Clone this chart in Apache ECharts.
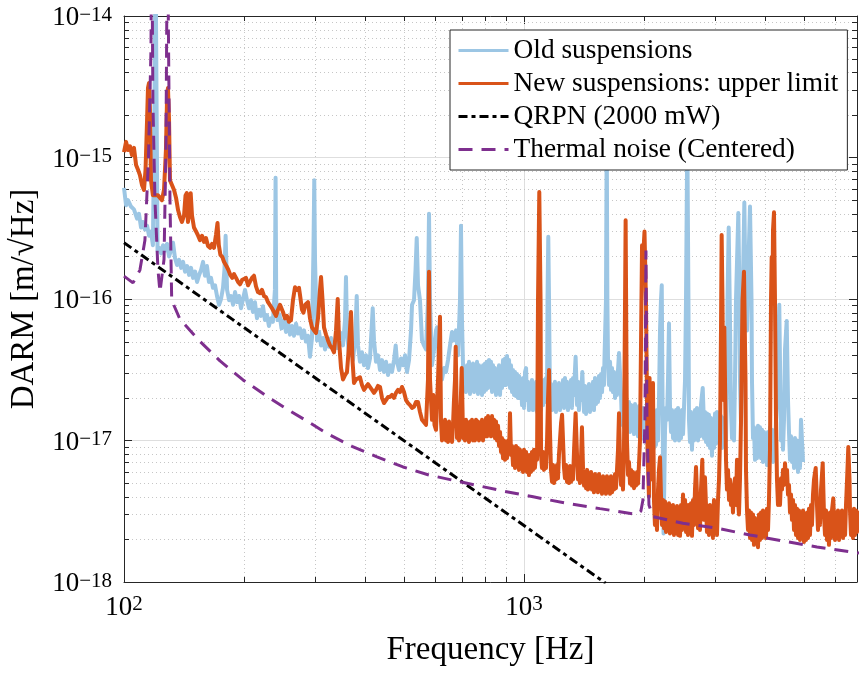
<!DOCTYPE html>
<html>
<head>
<meta charset="utf-8">
<script src="https://cdn.jsdelivr.net/npm/echarts@6/dist/echarts.min.js"></script>
<style>
  html, body { margin: 0; padding: 0; background: #ffffff; }
  #chart { width: 859px; height: 678px; }
</style>
</head>
<body>
<div id="chart"></div>
<script>
// Axis ranges (Hz, m/sqrt(Hz))
const freqMin = 100, freqMax = 6800;
const asdMin = 1e-18, asdMax = 1e-14;

// Minor tick positions of the two log axes
const freqMinorTicks = [200, 300, 400, 500, 600, 700, 800, 900, 2000, 3000, 4000, 5000, 6000];
const asdMinorTicks = [
  2e-18, 3e-18, 4e-18, 5e-18, 6e-18, 7e-18, 8e-18, 9e-18,
  2e-17, 3e-17, 4e-17, 5e-17, 6e-17, 7e-17, 8e-17, 9e-17,
  2e-16, 3e-16, 4e-16, 5e-16, 6e-16, 7e-16, 8e-16, 9e-16,
  2e-15, 3e-15, 4e-15, 5e-15, 6e-15, 7e-15, 8e-15, 9e-15
];

const seriesNames = ['Old suspensions', 'New suspensions: upper limit', 'QRPN (2000 mW)', 'Thermal noise (Centered)'];

// [frequency Hz, DARM ASD m/sqrt(Hz)]
const oldSuspensions = [
[100,6.1e-16],[101.2,4.6e-16],[102.3,5.0e-16],[104.1,4.5e-16],[105.9,4.3e-16],[107.8,3.7e-16],[109.0,4.0e-16],[110.3,3.2e-16],[111.5,3.5e-16],[112.8,3.1e-16],[114.2,3.3e-16],[115.5,2.8e-16],[116.8,3.0e-16],[118.1,2.4e-16],[119.2,2.6e-15],[119.9,3e-14],[120.6,2.6e-15],[121.3,2.2e-16],[122.4,2.3e-16],[123.8,2.1e-16],[125.2,2.4e-16],[126.6,2.2e-16],[128.1,2.45e-16],[129.6,2.0e-16],[131.0,2.2e-16],[132.6,2.5e-16],[134.1,1.95e-16],[135.7,1.74e-16],[137.3,1.89e-16],[138.9,1.66e-16],[140.5,1.83e-16],[142.1,1.56e-16],[143.8,1.71e-16],[145.4,1.48e-16],[147.1,1.66e-16],[148.8,1.41e-16],[150.6,1.56e-16],[152.3,1.32e-16],[154.1,1.48e-16],[155.9,1.61e-16],[157.6,1.83e-16],[159.4,1.46e-16],[161.2,1.71e-16],[163.1,1.32e-16],[165.0,1.41e-16],[166.9,1.2e-16],[168.9,1.25e-16],[170.8,1.05e-16],[172.8,9.1e-17],[174.8,1.0e-16],[176.8,1.2e-16],[178.3,1.61e-16],[179.5,2.8e-16],[181.0,1.16e-16],[183.1,9.8e-17],[185.2,1.05e-16],[187.4,9.1e-17],[189.5,1.12e-16],[191.7,9.5e-17],[193.9,1.05e-16],[196.1,8.6e-17],[198.4,1.0e-16],[200.7,1.16e-16],[203.0,9.8e-17],[205.4,8.6e-17],[207.7,9.8e-17],[210.1,8.1e-17],[212.5,9.5e-17],[215.0,7.3e-17],[217.5,8.4e-17],[220.0,7.6e-17],[222.5,8.9e-17],[225.1,7.1e-17],[227.7,7.7e-17],[230.3,6.45e-17],[233.0,7.3e-17],[235.6,6.9e-17],[238.4,1.16e-16],[239.3,7.2e-16],[240.2,9.8e-17],[242.0,7.1e-17],[244.8,7.8e-17],[247.6,6.2e-17],[251.2,7.1e-17],[254.1,5.85e-17],[257.0,6.9e-17],[260.0,5.6e-17],[263.0,6.45e-17],[266.1,5.5e-17],[269.2,6.7e-17],[272.3,5.7e-17],[275.4,6.2e-17],[278.6,5.3e-17],[281.8,6.0e-17],[285.1,5.0e-17],[288.4,5.5e-17],[291.7,3.9e-17],[295.1,5.3e-17],[297.6,2.2e-16],[299.0,6.9e-16],[300.3,1.89e-16],[303.8,5.1e-17],[307.3,5.85e-17],[310.9,4.7e-17],[314.5,5.3e-17],[318.1,4.4e-17],[321.8,5.1e-17],[325.5,4.6e-17],[329.3,5.3e-17],[333.1,4.4e-17],[337.0,5.0e-17],[340.9,4.5e-17],[344.8,5.3e-17],[348.8,5.75e-17],[352.8,4.7e-17],[356.9,7.1e-17],[358.9,1.43e-16],[361.0,6.0e-17],[365.2,4.0e-17],[369.4,4.7e-17],[373.7,3.7e-17],[378.0,5.1e-17],[381.8,1.05e-16],[384.6,4.7e-17],[389.0,3.6e-17],[393.5,4.2e-17],[398.1,3.4e-17],[402.7,4.0e-17],[407.4,3.25e-17],[412.1,3.8e-17],[415.7,6.0e-17],[418.6,8.6e-17],[421.7,5.1e-17],[426.6,3.6e-17],[431.5,4.0e-17],[436.5,3.15e-17],[441.6,3.7e-17],[446.7,3.05e-17],[451.9,3.6e-17],[457.1,2.9e-17],[462.4,3.4e-17],[467.7,3.05e-17],[473.2,3.7e-17],[477.8,4.7e-17],[481.5,3.6e-17],[487.1,3.15e-17],[492.7,3.8e-17],[498.4,3.4e-17],[504.1,4.0e-17],[510.0,3.05e-17],[515.9,3.7e-17],[521.9,6.0e-17],[524.9,9.1e-17],[530.9,9.8e-17],[535.6,1.61e-16],[539.3,2.7e-16],[543.3,1.25e-16],[549.5,9.8e-17],[555.9,5.1e-17],[562.3,4.7e-17],[568.9,4.4e-17],[575.4,9.8e-17],[578.8,4.0e-16],[582.1,9.8e-17],[588.8,3.4e-17],[595.7,4.4e-17],[602.6,6.0e-17],[606.1,6.3e-17],[609.6,4.7e-17],[616.6,2.9e-17],[623.7,2.7e-17],[631.0,3.25e-17],[638.3,3.05e-17],[645.7,3.7e-17],[653.1,4.7e-17],[660.7,5.85e-17],[668.3,5.1e-17],[676.1,6.0e-17],[683.9,4.0e-17],[691.8,9.8e-17],[695.8,3.3e-16],[699.8,7.1e-17],
[704.0,3.4e-17],[707.9,2.35e-17],[712.0,3.25e-17],[716.1,2.2e-17],[720.3,3.4e-17],[724.4,2.28e-17],[728.6,3.6e-17],[732.8,2.13e-17],[737.1,3.4e-17],[741.3,2.28e-17],[745.6,3.5e-17],[749.9,2.2e-17],[754.2,3.25e-17],[758.6,2.35e-17],[763.0,3.6e-17],[767.4,2.13e-17],[771.8,3.4e-17],[776.3,2.28e-17],[780.8,3.25e-17],[785.3,2.1e-17],[789.8,3.4e-17],[794.3,2.2e-17],[799.0,3.5e-17],[803.6,2.28e-17],[808.2,3.6e-17],[812.9,2.35e-17],[817.6,3.7e-17],[822.3,2.47e-17],[827.1,3.6e-17],[831.9,2.2e-17],[836.7,3.4e-17],[841.4,2.28e-17],[846.3,3.25e-17],[851.2,2.1e-17],[856.1,3.15e-17],[861.1,2.2e-17],[866.1,3.4e-17],[871.0,2.1e-17],[876.1,3.25e-17],[881.1,2.35e-17],[886.2,3.7e-17],[891.3,2.47e-17],[896.5,3.8e-17],[901.7,2.47e-17],[906.9,3.95e-17],[912.1,2.6e-17],[917.4,3.7e-17],[922.6,2.35e-17],[928.0,3.4e-17],[933.3,2.2e-17],[938.7,3.15e-17],[944.1,2.1e-17],[949.6,3.05e-17],[955.0,2.06e-17],[960.6,2.95e-17],[966.1,2.0e-17],[971.7,2.86e-17],
[977.2,2.0e-17],[982.9,2.68e-17],[988.6,1.78e-17],[994.3,2.77e-17],[1000,1.7e-17],[1006,3.05e-17],[1012,3.25e-17],[1017,1.93e-17],[1023,2.6e-17],[1029,1.64e-17],[1035,2.51e-17],[1041,1.75e-17],[1047,2.68e-17],[1053,1.64e-17],[1059,2.43e-17],[1065,1.7e-17],[1072,2.6e-17],[1078,1.59e-17],[1084,2.35e-17],[1090,1.7e-17],[1096,2.51e-17],[1103,1.64e-17],[1109,2.43e-17],[1116,1.78e-17],[1122,2.68e-17],[1129,1.87e-17],[1135,2.77e-17],[1142,2.28e-17],[1145,9.8e-17],[1150,2.75e-16],[1155,9.8e-17],[1161,2.1e-17],[1168,2.51e-17],[1175,1.64e-17],[1182,2.43e-17],[1189,1.7e-17],[1195,2.6e-17],[1202,1.59e-17],[1209,2.47e-17],[1216,1.7e-17],[1223,2.55e-17],[1230,1.64e-17],[1238,2.43e-17],[1245,1.78e-17],[1252,2.68e-17],[1259,1.7e-17],[1266,2.77e-17],[1274,1.81e-17],[1281,2.6e-17],[1288,1.64e-17],[1296,2.51e-17],[1303,1.75e-17],[1311,2.68e-17],[1318,1.7e-17],[1326,2.77e-17],[1334,2.1e-17],[1341,3.15e-17],[1346,3.9e-17],[1353,2.47e-17],[1357,1.78e-17],[1365,2.6e-17],[1372,1.64e-17],[1380,2.47e-17],[1388,1.93e-17],[1399,3.05e-17],[1405,2.2e-17],[1413,1.59e-17],[1421,2.43e-17],[1429,1.54e-17],[1438,2.35e-17],[1445,1.64e-17],[1454,2.51e-17],[1462,1.59e-17],[1471,2.43e-17],[1479,1.7e-17],[1488,2.6e-17],[1496,1.64e-17],[1505,2.77e-17],[1514,1.81e-17],[1522,2.68e-17],[1531,1.87e-17],[1540,2.86e-17],[1549,2.0e-17],[1558,2.95e-17],[1567,2.2e-17],[1576,3.25e-17],[1585,2.47e-17],[1589,3.7e-17],[1603,9.8e-17],[1610,1.5e-15],[1616,9.8e-17],[1622,3.7e-17],[1631,2.47e-17],[1641,3.6e-17],[1650,2.28e-17],[1660,3.25e-17],[1669,2.2e-17],[1679,3.05e-17],[1689,2.0e-17],[1698,2.9e-17],[1708,2.1e-17],[1718,3.15e-17],[1728,4.15e-17],
[1748,2.1e-17],[1758,1.29e-17],[1768,1.87e-17],[1778,1.24e-17],[1788,1.93e-17],[1799,1.19e-17],[1809,1.81e-17],[1820,1.24e-17],[1830,1.87e-17],[1841,1.15e-17],[1852,1.78e-17],[1862,1.19e-17],[1873,1.75e-17],[1884,1.11e-17],[1895,1.81e-17],[1906,1.15e-17],[1917,1.7e-17],[1928,1.07e-17],[1939,1.75e-17],[1950,1.11e-17],[1961,1.64e-17],[1972,1.04e-17],[1984,1.7e-17],[1995,1.07e-17],[2007,1.59e-17],[2018,1.0e-17],[2030,1.64e-17],[2042,1.04e-17],[2053,1.55e-17],[2065,9.76e-18],[2077,1.59e-17],[2089,9.3e-18],[2101,1.49e-17],[2113,8.85e-18],[2125,1.55e-17],[2138,9.3e-18],[2150,1.64e-17],[2163,1.0e-17],[2175,1.93e-17],[2188,6.0e-17],[2200,9.8e-17],[2210,1.25e-16],[2220,1.93e-17],[2233,2.2e-18],[2245,6.2e-18],[2252,1.19e-17],[2265,1.7e-17],[2278,1.4e-17],[2291,2.68e-17],[2304,6.7e-17],[2317,1.78e-17],[2331,1.15e-17],[2344,1.64e-17],[2358,1.04e-17],[2371,1.59e-17],[2385,1.0e-17],[2399,1.64e-17],[2413,1.07e-17],[2427,1.7e-17],[2441,1.0e-17],[2455,1.59e-17],[2469,1.04e-17],[2483,1.64e-17],[2498,1.11e-17],[2512,1.7e-17],[2527,2.68e-17],[2541,9.8e-17],[2560,1.5e-15],[2577,9.8e-17],[2585,1.4e-17],[2600,9.76e-18],[2615,1.59e-17],[2630,8.6e-18],[2646,1.55e-17],[2661,1.0e-17],[2676,1.64e-17],[2692,1.04e-17],[2707,1.7e-17],[2723,1.0e-17],[2739,1.64e-17],[2754,1.07e-17],[2770,1.78e-17],[2786,2.1e-17],[2798,2.35e-17],[2810,1.64e-17],[2818,1.04e-17],[2834,1.59e-17],[2851,9.76e-18],[2867,1.55e-17],[2884,9.3e-18],[2900,1.52e-17],[2917,8.85e-18],[2934,1.44e-17],[2951,7.8e-18],[2968,1.4e-17],[2985,8.85e-18],[3003,1.55e-17],[3020,9.5e-18],[3037,1.59e-17],[3055,9.76e-18],[3073,1.55e-17],[3090,9.3e-18],[3108,1.49e-17],[3126,8.85e-18],[3144,1.44e-17],[3162,9.1e-18],[3181,1.4e-17],[3199,1.0e-17],[3217,2.68e-17],[3227,9.8e-17],[3249,3.2e-16],[3273,7.1e-17],[3292,1.64e-17],[3311,1.04e-17],[3330,1.59e-17],[3350,1.0e-17],[3369,2.68e-17],[3388,9.8e-17],[3434,4.05e-16],[3458,9.8e-17],[3467,2.68e-17],[3488,1.29e-17],[3508,3.7e-17],[3528,1.36e-16],[3555,4.8e-16],[3579,1.16e-16],[3610,6.0e-17],[3642,1.89e-16],[3673,4.5e-16],[3705,9.8e-17],[3715,2.68e-17],[3737,1.04e-17],[3758,1.24e-17],[3780,7.3e-18],[3802,1.19e-17],[3824,7.5e-18],[3846,1.27e-17],[3868,7.9e-18],[3890,1.24e-17],[3913,7.5e-18],[3936,1.19e-17],[3958,7.05e-18],[3981,1.15e-17],[4004,7.3e-18],[4027,1.11e-17],[4050,6.7e-18],[4074,1.15e-17],[4097,7.3e-18],[4121,1.24e-17],[4145,7.5e-18],[4169,1.19e-17],[4193,7.05e-18],[4217,1.11e-17],[4241,7.3e-18],[4266,1.4e-17],[4290,1.93e-17],[4315,3.7e-17],[4347,9.1e-17],[4377,1.93e-17],[4391,1.0e-17],[4416,1.29e-17],[4441,8.6e-18],[4467,1.4e-17],[4493,4.4e-17],[4537,7.0e-17],[4571,1.93e-17],[4597,1.15e-17],[4624,7.3e-18],[4651,1.07e-17],[4677,7.05e-18],[4705,1.0e-17],[4732,6.4e-18],[4759,1.04e-17],[4786,6.7e-18],[4814,1.0e-17],[4842,6.0e-18],[4870,9.76e-18],[4898,6.4e-18],[4926,1.4e-17],[4955,1.44e-17],[4984,7.05e-18]
];

const newSuspensions = [
[100,1.09e-15],[101.2,1.29e-15],[102.3,1.13e-15],[103.5,1.2e-15],[104.7,1.04e-15],[105.9,1.17e-15],[107.2,8.85e-16],[108.4,8.2e-16],[109.6,7.5e-16],[110.9,6.4e-16],[112.2,5.9e-16],[113.2,8.2e-16],[114.2,1.84e-15],[114.8,3.1e-15],[115.5,3.36e-15],[116.1,2.17e-15],[116.8,6.9e-16],[118.1,5.4e-16],[120.2,5.4e-16],[121.6,5.4e-16],[123.0,5.3e-16],[124.4,5.0e-16],[125.9,5.9e-16],[127.3,1.13e-15],[128.1,2.55e-15],[128.8,3.1e-15],[129.6,1.84e-15],[130.3,6.9e-16],[131.8,6.4e-16],[133.4,5.9e-16],[134.9,5.2e-16],[136.5,4.25e-16],[138.0,3.8e-16],[139.6,3.5e-16],[141.3,3.9e-16],[142.5,5.4e-16],[143.5,5.6e-16],[144.5,3.5e-16],[145.8,4.25e-16],[146.8,5.6e-16],[147.9,3.9e-16],[149.6,3.2e-16],[151.4,3.0e-16],[153.2,2.8e-16],[154.9,2.6e-16],[156.7,2.8e-16],[158.5,2.53e-16],[160.3,2.7e-16],[162.2,2.37e-16],[164.1,2.3e-16],[166.0,2.45e-16],[167.9,2.3e-16],[169.8,2.83e-16],[171.3,3.45e-16],[172.6,2.4e-16],[174.2,2.05e-16],[176.2,1.98e-16],[177.8,1.83e-16],[180.3,1.71e-16],[182.3,1.61e-16],[184.4,1.48e-16],[186.5,1.41e-16],[188.4,1.5e-16],[190.6,1.41e-16],[192.8,1.32e-16],[195.0,1.27e-16],[197.3,1.36e-16],[199.5,1.32e-16],[201.8,1.41e-16],[204.2,1.25e-16],[206.5,1.29e-16],[208.9,1.41e-16],[211.3,1.46e-16],[213.8,1.23e-16],[216.2,1.12e-16],[218.8,1.1e-16],[221.3,1.16e-16],[223.9,1.05e-16],[226.5,1.03e-16],[229.1,9.5e-17],[231.7,9.2e-17],[234.4,8.6e-17],[237.1,8.1e-17],[239.9,7.6e-17],[242.7,8.4e-17],[245.5,9.1e-17],[247.9,9.4e-17],[249.7,8.1e-17],[252.6,7.3e-17],[255.5,7.6e-17],[258.5,6.9e-17],[261.5,7.1e-17],[264.5,9.8e-17],[267.6,1.21e-16],[270.7,1.16e-16],[273.8,1.2e-16],[275.4,1.07e-16],[278.6,8.4e-17],[280.9,8.0e-17],[284.0,9.1e-17],[288.4,9.5e-17],[291.7,7.3e-17],[295.1,6.3e-17],[298.5,6.0e-17],[302.0,5.75e-17],[305.5,7.3e-17],[309.0,1.16e-16],[310.9,1.43e-16],[313.6,9.8e-17],[316.2,6.3e-17],[319.9,5.6e-17],[323.6,5.1e-17],[327.4,4.7e-17],[331.1,4.5e-17],[335.0,4.2e-17],[338.9,6.0e-17],[342.2,1.0e-16],[344.8,5.1e-17],[348.8,3.25e-17],[352.8,2.7e-17],[356.9,2.9e-17],[361.0,3.05e-17],[365.2,4.7e-17],[369.4,8.1e-17],[372.6,3.7e-17],[375.8,2.55e-17],[380.2,2.7e-17],[384.6,2.77e-17],[389.0,2.8e-17],[393.5,2.47e-17],[398.1,2.28e-17],[402.7,2.35e-17],[407.4,2.5e-17],[412.1,2.55e-17],[416.9,2.28e-17],[421.7,2.17e-17],[426.6,2.28e-17],[431.5,2.43e-17],[436.5,2.39e-17],[441.6,2.0e-17],[446.7,1.84e-17],[451.9,1.93e-17],[457.1,2.03e-17],[462.4,2.03e-17],[467.7,2.1e-17],[473.2,2.0e-17],[478.6,2.17e-17],[484.2,2.28e-17],[489.8,2.2e-17],[495.5,2.39e-17],[501.2,2.2e-17],[507.0,1.93e-17],[512.9,1.84e-17],[518.8,1.78e-17],[524.8,1.7e-17],[530.9,1.73e-17],[537.0,1.87e-17],[543.3,1.87e-17],[549.5,1.59e-17],[555.9,1.4e-17],[562.3,1.44e-17],[568.9,1.29e-17],[575.4,2.7e-17],[578.8,1.56e-16],[582.1,2.7e-17],[588.8,1.4e-17],[593.3,2.1e-17],[597.4,1.29e-17],[602.6,1.19e-17],[609.6,2.7e-17],[616.6,7.5e-17],
[620.2,1.36e-17],[623.8,1.0e-17],[627.4,1.31e-17],[631.0,1.04e-17],[634.7,1.4e-17],[638.3,1.0e-17],[642.1,1.31e-17],[645.8,9.76e-18],[649.5,1.36e-17],[653.3,1.0e-17],[657.1,1.29e-17],[660.9,9.76e-18],[664.7,1.31e-17],[668.3,1.93e-17],[672.2,2.68e-17],[674.9,4.6e-17],[678.1,1.93e-17],[680.0,1.04e-17],[684.0,1.31e-17],[687.9,1.0e-17],[691.9,1.36e-17],[695.1,1.93e-17],[698.7,3.25e-17],[702.0,1.64e-17],[704.0,1.04e-17],[707.9,1.36e-17],[712.0,1.0e-17],[716.1,1.4e-17],[720.3,1.04e-17],[724.4,1.31e-17],[728.6,9.76e-18],[732.8,1.36e-17],[737.1,1.04e-17],[741.3,1.4e-17],[745.6,1.0e-17],[749.9,1.31e-17],[754.2,1.0e-17],[758.6,1.4e-17],[763.0,1.04e-17],[767.4,1.36e-17],[771.8,1.0e-17],[776.3,1.31e-17],[780.8,1.04e-17],[785.3,1.4e-17],[789.8,1.0e-17],[794.3,1.36e-17],[799.0,1.07e-17],[803.6,1.44e-17],[808.2,1.07e-17],[812.9,1.49e-17],[817.6,1.11e-17],[822.3,1.44e-17],[827.1,1.07e-17],[831.9,1.49e-17],[836.7,1.11e-17],[841.4,1.4e-17],[846.3,1.04e-17],[851.2,1.36e-17],[856.1,1.0e-17],[861.1,1.27e-17],[866.1,9.15e-18],[871.0,1.15e-17],[876.1,8.3e-18],[881.1,1.04e-17],[886.2,7.5e-18],[891.3,1.0e-17],[896.5,7.3e-18],[901.7,9.76e-18],[906.9,7.5e-18],[912.1,1.0e-17],[917.4,8.3e-18],[922.6,1.56e-17],[928.0,7.9e-18],[933.3,9.15e-18],[938.7,6.7e-18],[944.1,8.85e-18],[949.6,6.4e-18],[955.0,9.15e-18],[960.6,6.7e-18],[966.1,8.85e-18],[971.7,6.2e-18],[977.2,8.6e-18],[982.9,6.4e-18],[988.6,8.3e-18],[994.3,6.0e-18],[1000,8.6e-18],[1006,6.2e-18],[1012,8.3e-18],[1017,6.0e-18],[1023,7.9e-18],[1029,5.7e-18],[1035,7.9e-18],[1041,6.0e-18],[1047,8.3e-18],[1053,6.2e-18],[1059,8.6e-18],[1065,6.4e-18],[1072,8.3e-18],[1078,7.3e-18],[1084,9.8e-17],[1092,5.7e-16],[1100,9.8e-17],[1103,7.9e-18],[1109,6.4e-18],[1116,8.3e-18],[1122,6.2e-18],[1129,7.9e-18],[1135,6.4e-18],[1142,1.0e-17],[1148,1.93e-17],[1155,3.15e-17],[1161,1.19e-17],[1168,6.2e-18],[1175,5.1e-18],[1182,6.7e-18],[1189,5.0e-18],[1195,6.4e-18],[1202,5.3e-18],[1209,6.7e-18],[1216,5.4e-18],[1223,7.9e-18],[1230,1.0e-17],[1238,1.33e-17],[1245,1.52e-17],[1252,1.0e-17],[1259,6.4e-18],[1266,5.4e-18],[1274,6.7e-18],[1281,5.1e-18],[1288,6.4e-18],[1296,5.0e-18],[1303,6.6e-18],[1311,5.1e-18],[1318,6.4e-18],[1326,5.3e-18],[1334,8.6e-18],[1346,1.56e-17],[1357,7.9e-18],[1365,5.3e-18],[1372,6.4e-18],[1380,5.0e-18],[1388,7.3e-18],[1396,1.24e-17],
[1405,6.2e-18],[1413,4.8e-18],[1421,6.0e-18],[1429,4.6e-18],[1438,6.2e-18],[1445,4.5e-18],[1454,5.8e-18],[1462,4.6e-18],[1471,6.0e-18],[1479,4.5e-18],[1488,5.6e-18],[1496,4.3e-18],[1505,5.8e-18],[1514,4.5e-18],[1522,5.6e-18],[1531,4.3e-18],[1540,5.8e-18],[1549,4.5e-18],[1558,5.4e-18],[1567,4.2e-18],[1576,5.6e-18],[1585,4.3e-18],[1594,5.4e-18],[1603,4.2e-18],[1612,5.6e-18],[1622,4.3e-18],[1631,5.4e-18],[1641,4.2e-18],[1650,5.6e-18],[1660,4.3e-18],[1669,5.4e-18],[1679,4.5e-18],[1689,5.8e-18],[1698,4.6e-18],[1708,6.2e-18],[1718,8.6e-18],[1728,1.56e-17],[1738,7.3e-18],[1748,4.85e-18],[1758,6.0e-18],[1768,4.5e-18],[1778,8.6e-18],[1795,3.6e-16],[1809,1.0e-17],[1820,5.7e-18],[1830,7.05e-18],[1841,4.95e-18],[1852,6.2e-18],[1862,4.8e-18],[1873,6.0e-18],[1884,4.6e-18],[1895,5.8e-18],[1906,4.8e-18],[1917,6.0e-18],[1928,4.95e-18],[1939,6.9e-18],[1950,1.0e-17],
[1973,2.4e-16],[1984,1.89e-16],[2001,3.0e-16],[2018,9.8e-17],[2036,8.6e-18],[2053,4.0e-18],[2060,2.77e-17],[2077,5.3e-18],[2101,2.55e-17],
[2113,3.8e-18],[2125,2.53e-18],[2138,3.5e-18],[2150,2.33e-18],[2163,4.5e-18],[2175,6.2e-18],[2188,7.6e-18],[2200,4.15e-18],[2213,2.53e-18],[2226,3.8e-18],[2239,2.4e-18],[2252,3.7e-18],[2265,2.26e-18],[2278,3.5e-18],[2291,2.33e-18],[2304,3.6e-18],[2317,2.2e-18],[2331,3.45e-18],[2344,2.26e-18],[2358,3.5e-18],[2371,2.15e-18],[2385,3.3e-18],[2399,2.22e-18],[2413,3.45e-18],[2427,2.15e-18],[2441,3.3e-18],[2455,2.12e-18],[2469,3.5e-18],[2483,2.33e-18],[2498,4.15e-18],[2512,2.53e-18],[2527,3.8e-18],[2541,2.26e-18],[2556,3.5e-18],[2570,2.15e-18],[2585,3.5e-18],[2600,2.22e-18],[2615,3.6e-18],[2630,2.12e-18],[2646,3.8e-18],[2661,2.53e-18],[2676,4.5e-18],[2692,6.5e-18],[2707,4.15e-18],[2723,2.4e-18],[2739,3.7e-18],[2754,2.33e-18],[2770,4.5e-18],[2791,7.3e-18],[2802,3.8e-18],[2818,2.75e-18],[2834,5.5e-18],[2851,3.5e-18],[2867,2.26e-18],[2884,3.45e-18],[2900,2.15e-18],[2917,3.5e-18],[2934,2.22e-18],[2951,3.3e-18],[2968,2.05e-18],[2985,3.8e-18],[3003,2.33e-18],[3020,3.5e-18],[3037,2.15e-18],[3055,3.8e-18],[3073,5.3e-18],[3090,1.0e-17],[3108,6.0e-17],[3120,2.83e-16],[3135,9.8e-17],[3149,1.93e-17],[3168,6.3e-17],[3190,1.4e-17],[3199,7.3e-18],[3217,4.5e-18],[3236,6.2e-18],[3255,3.8e-18],[3273,5.3e-18],[3292,3.5e-18],[3311,4.6e-18],[3330,3.1e-18],[3350,4.85e-18],[3369,5.4e-18],[3388,3.5e-18],[3408,7.3e-18],[3428,3.8e-18],[3447,3.0e-18],[3467,5.3e-18],[3488,1.4e-17],[3518,9.8e-17],[3548,1.56e-16],[3579,2.68e-17],[3589,6.2e-18],[3610,3.2e-18],[3631,2.33e-18],[3652,3.2e-18],[3673,2.05e-18],[3694,3.1e-18],[3715,1.98e-18],[3737,3.0e-18],[3758,1.83e-18],[3780,2.83e-18],[3802,1.89e-18],[3824,2.53e-18],[3846,1.76e-18],[3868,3.0e-18],[3890,1.98e-18],[3913,3.1e-18],[3936,2.05e-18],[3958,3.2e-18],[3981,2.15e-18],[4004,3.1e-18],[4027,2.05e-18],[4050,3.3e-18],[4074,2.33e-18],[4097,3.8e-18],[4121,8.6e-18],[4145,9.8e-17],[4161,1.98e-16],[4181,9.8e-17],[4193,3.07e-16],[4217,4.1e-16],[4241,9.8e-17],[4266,1.4e-17],[4290,5.3e-18],[4315,3.5e-18],[4340,4.85e-18],[4365,3.5e-18],[4391,5.4e-18],[4416,4.5e-18],[4441,6.2e-18],[4467,4.85e-18],[4493,6.9e-18],[4519,5.3e-18],[4545,6.2e-18],[4571,4.15e-18],[4597,4.85e-18],[4624,3.1e-18],[4651,4.15e-18],[4677,2.75e-18],[4705,3.8e-18],[4732,2.33e-18],[4759,3.5e-18],[4786,2.15e-18],[4814,3.3e-18],[4842,2.05e-18],[4870,3.2e-18],[4898,1.98e-18],[4926,3.1e-18],[4955,2.05e-18],[4984,3.2e-18],[5012,1.92e-18],[5041,3.0e-18],[5070,1.98e-18],[5100,3.1e-18],[5129,2.05e-18],[5158,3.3e-18],[5188,2.15e-18],[5218,3.5e-18],[5248,2.53e-18],[5278,4.15e-18],[5309,5.3e-18],[5361,6.4e-18],[5386,4.5e-18],[5401,3.5e-18],[5433,2.33e-18],[5464,3.5e-18],[5495,2.53e-18],[5527,4.5e-18],[5582,6.9e-18],[5607,4.15e-18],[5623,3.0e-18],[5656,2.15e-18],[5689,3.2e-18],[5721,1.98e-18],[5754,3.0e-18],[5787,1.83e-18],[5821,3.1e-18],[5854,2.05e-18],[5888,3.2e-18],[5932,3.9e-18],[5957,2.75e-18],[5992,1.98e-18],[6026,3.1e-18],[6062,2.05e-18],[6095,3.2e-18],[6133,1.98e-18],[6166,3.1e-18],[6204,2.15e-18],[6237,3.2e-18],[6276,2.05e-18],[6310,3.1e-18],[6349,2.15e-18],[6383,3.5e-18],[6422,5.3e-18],[6468,9.0e-18],[6513,5.3e-18],[6531,3.2e-18],[6569,2.15e-18],[6607,3.1e-18],[6645,2.05e-18],[6683,3.3e-18],[6722,2.15e-18],[6761,3.2e-18],[6800,2.26e-18],[6839,3.1e-18],[6878,2.33e-18]
];

const qrpn = [[100, 2.5e-16], [1600, 9.8e-19]];

const thermalNoise = [
[100,1.45e-16],[105.3,1.3e-16],[109.6,1.6e-16],[112.8,2.6e-16],[115.1,9.6e-16],[116.8,5.8e-15],[117.3,5e-14],[118.1,2.5e-15],[119.5,5e-16],[121.6,1.6e-16],[123.0,1.12e-16],[124.4,1.15e-16],[125.9,1.9e-16],[127.3,1.13e-15],[128.4,5e-14],[129.6,2.5e-15],[130.3,5e-16],[131.6,9.8e-17],[138.0,7.2e-17],[154.0,5.1e-17],[173.8,3.65e-17],[198.4,2.68e-17],[229.1,2.03e-17],[252.6,1.7e-17],[283.5,1.4e-17],[323.6,1.11e-17],[371.5,9.1e-18],[429.0,7.65e-18],[498.4,6.5e-18],[578.8,5.7e-18],[884.7,4.4e-18],[1054,4.0e-18],[1278,3.6e-18],[1549,3.3e-18],[1916,3.0e-18],[1960,3.17e-18],[1983,3.8e-18],[2006,1.4e-17],[2018,2.2e-16],[2030,1.4e-17],[2053,3.5e-18],[2101,2.9e-18],[2497,2.6e-18],[3038,2.4e-18],[3673,2.15e-18],[4441,1.95e-18],[5401,1.77e-18],[6879,1.6e-18]
];

const axisColor = '#262626';
const serif = 'Liberation Serif';

function powerLabel(v) {
  const e = Math.round(Math.log10(v));
  return '{b|10}{s|' + String(e).replace('-', '\u2212') + '}';
}
const powerRich = {
  b: { fontFamily: serif, fontSize: 27, color: '#000', lineHeight: 27, verticalAlign: 'bottom' },
  s: { fontFamily: serif, fontSize: 21, color: '#000', lineHeight: 21, verticalAlign: 'top', padding: [0, 0, 14, 0] }
};

// dotted minor grid plus short inward ticks on both opposite edges
function minorFreqItem(params, api) {
  const cs = params.coordSys;
  const x = Math.round(api.coord([api.value(0), asdMin])[0]) + 0.5;
  const top = cs.y, bottom = cs.y + cs.height;
  return { type: 'group', children: [
    { type: 'line', shape: { x1: x, y1: top, x2: x, y2: bottom }, style: { stroke: '#c6c6c6', lineWidth: 1, lineDash: [1, 3] } },
    { type: 'line', shape: { x1: x, y1: bottom, x2: x, y2: bottom - 5 }, style: { stroke: axisColor, lineWidth: 1 } },
    { type: 'line', shape: { x1: x, y1: top, x2: x, y2: top + 5 }, style: { stroke: axisColor, lineWidth: 1 } }
  ]};
}
function minorAsdItem(params, api) {
  const cs = params.coordSys;
  const y = Math.round(api.coord([freqMin, api.value(1)])[1]) + 0.5;
  const left = cs.x, right = cs.x + cs.width;
  return { type: 'group', children: [
    { type: 'line', shape: { x1: left, y1: y, x2: right, y2: y }, style: { stroke: '#c6c6c6', lineWidth: 1, lineDash: [1, 3] } },
    { type: 'line', shape: { x1: left, y1: y, x2: left + 5, y2: y }, style: { stroke: axisColor, lineWidth: 1 } },
    { type: 'line', shape: { x1: right, y1: y, x2: right - 5, y2: y }, style: { stroke: axisColor, lineWidth: 1 } }
  ]};
}

const frameAxis = {
  axisLine: { show: true, lineStyle: { color: axisColor, width: 1 } },
  axisTick: { show: true, inside: true, length: 8, lineStyle: { color: axisColor, width: 1 } },
  axisLabel: { show: false },
  splitLine: { show: false }
};

const chart = echarts.init(document.getElementById('chart'), null, { renderer: 'canvas' });
chart.setOption({
  animation: false,
  backgroundColor: '#ffffff',
  grid: { left: 124, right: 2, top: 16, bottom: 96, containLabel: false, outerBoundsMode: 'none' },
  legend: {
    data: seriesNames,
    orient: 'vertical',
    left: 450,
    top: 30,
    padding: [7, 9, 7, 7],
    itemWidth: 50,
    itemHeight: 14,
    itemGap: 6,
    backgroundColor: '#ffffff',
    borderColor: axisColor,
    borderWidth: 1,
    borderRadius: 0,
    selectedMode: false,
    itemStyle: { opacity: 0 },
    lineStyle: { width: 3 },
    textStyle: { fontFamily: serif, fontSize: 27.4, color: '#000', lineHeight: 26 }
  },
  xAxis: [
    {
      type: 'log', logBase: 10, min: freqMin, max: freqMax, position: 'bottom',
      name: 'Frequency [Hz]', nameLocation: 'middle', nameGap: 49,
      nameTextStyle: { fontFamily: serif, fontSize: 33, color: '#000', lineHeight: 33 },
      axisLine: { show: true, lineStyle: { color: axisColor, width: 1 } },
      axisTick: { show: true, inside: true, length: 8, lineStyle: { color: axisColor, width: 1 } },
      axisLabel: { margin: 12, formatter: powerLabel, rich: powerRich, showMaxLabel: false, showMinLabel: true },
      splitLine: { show: true, lineStyle: { color: '#dedede', width: 1 } }
    },
    Object.assign({ type: 'log', logBase: 10, min: freqMin, max: freqMax, position: 'top' }, frameAxis)
  ],
  yAxis: [
    {
      type: 'log', logBase: 10, min: asdMin, max: asdMax, position: 'left',
      name: 'DARM [m/\u221AHz]', nameLocation: 'middle', nameGap: 82,
      nameTextStyle: { fontFamily: serif, fontSize: 33, color: '#000', lineHeight: 33 },
      axisLine: { show: true, lineStyle: { color: axisColor, width: 1 } },
      axisTick: { show: true, inside: true, length: 8, lineStyle: { color: axisColor, width: 1 } },
      axisLabel: { margin: 12, formatter: powerLabel, rich: powerRich, padding: [4, 0, 0, 0] },
      splitLine: { show: true, lineStyle: { color: '#dedede', width: 1 } }
    },
    Object.assign({ type: 'log', logBase: 10, min: asdMin, max: asdMax, position: 'right' }, frameAxis)
  ],
  series: [
    {
      type: 'custom', silent: true, z: 1, xAxisIndex: 0, yAxisIndex: 0,
      data: freqMinorTicks.map(f => [f, asdMin]), encode: { x: 0, y: 1 },
      renderItem: minorFreqItem, clip: false
    },
    {
      type: 'custom', silent: true, z: 1, xAxisIndex: 0, yAxisIndex: 0,
      data: asdMinorTicks.map(a => [freqMin, a]), encode: { x: 0, y: 1 },
      renderItem: minorAsdItem, clip: false
    },
    {
      name: seriesNames[0], type: 'line', data: oldSuspensions, symbol: 'none', z: 2,
      itemStyle: { color: '#9cc6e4' },
      lineStyle: { color: '#9cc6e4', width: 4, join: 'round' }
    },
    {
      name: seriesNames[1], type: 'line', data: newSuspensions, symbol: 'none', z: 2,
      itemStyle: { color: '#d95319' },
      lineStyle: { color: '#d95319', width: 4, join: 'round' }
    },
    {
      name: seriesNames[2], type: 'line', data: qrpn, symbol: 'none', z: 2,
      itemStyle: { color: '#000000' },
      lineStyle: { color: '#000000', width: 3, type: [9, 4, 4, 4] }
    },
    {
      name: seriesNames[3], type: 'line', data: thermalNoise, symbol: 'none', z: 2,
      itemStyle: { color: '#7e2f8e' },
      lineStyle: { color: '#7e2f8e', width: 3, type: [14, 9] }
    }
  ]
});
</script>
</body>
</html>
